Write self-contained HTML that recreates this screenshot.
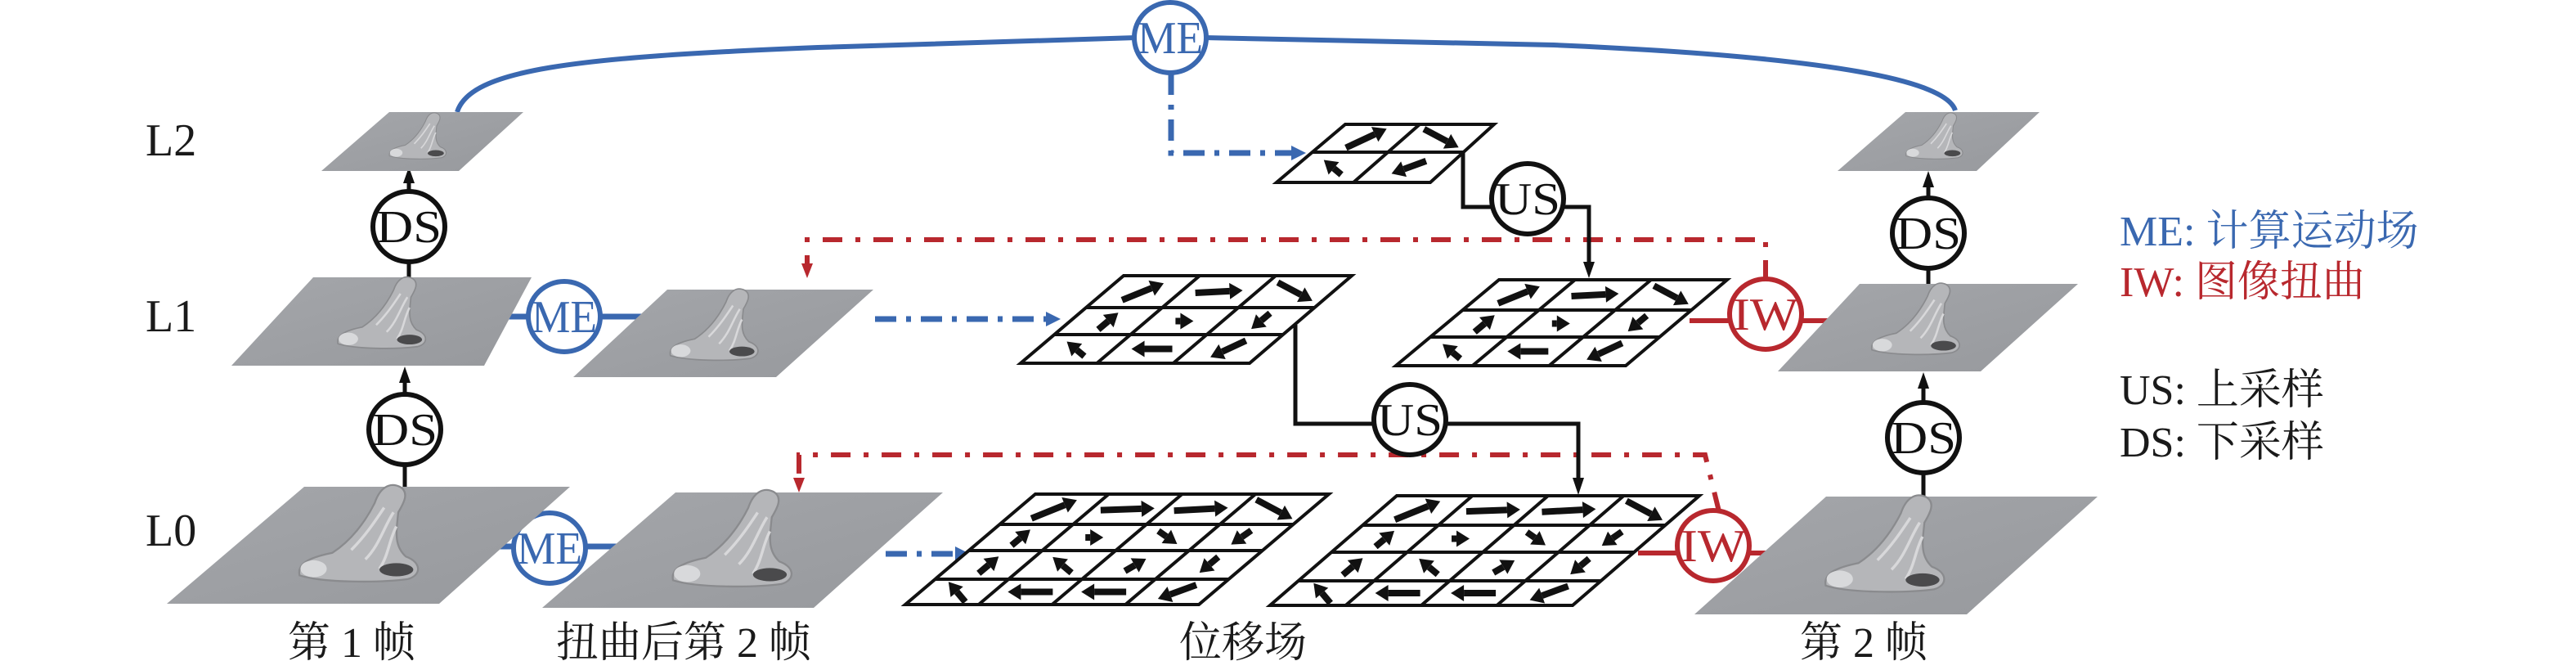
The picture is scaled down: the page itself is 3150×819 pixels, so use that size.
<!DOCTYPE html>
<html><head><meta charset="utf-8"><style>
html,body{margin:0;padding:0;background:#fff;width:3150px;height:819px;overflow:hidden}
svg{display:block}
.t{font-family:"Liberation Serif","Noto Serif CJK SC",serif}
</style></head><body>
<svg id="s" width="3150" height="819" viewBox="0 0 3150 819" xmlns="http://www.w3.org/2000/svg">
<defs>
<linearGradient id="gg" x1="0" y1="0" x2="1" y2="1">
<stop offset="0" stop-color="#a4a6aa"/><stop offset="1" stop-color="#97999d"/>
</linearGradient>
</defs>
<g id="lines" fill="none" stroke-linejoin="miter">
<path d="M559,137 C575,85 700,70 1000,58 L1390,46" stroke="#3a68b0" stroke-width="6"/>
<path d="M1472,46 L1900,55 C2250,70 2380,100 2391,135" stroke="#3a68b0" stroke-width="6"/>
<path d="M1432,90 L1432,187 L1580,187" stroke="#3a68b0" stroke-width="7" stroke-dasharray="26 12 6 12"/>
<polygon points="1597,187 1579,178 1579,196" fill="#3a68b0"/>
<line x1="575" y1="387" x2="790" y2="387" stroke="#3a68b0" stroke-width="7"/>
<line x1="610" y1="668" x2="770" y2="668" stroke="#3a68b0" stroke-width="7"/>
<line x1="1070" y1="390" x2="1280" y2="390" stroke="#3a68b0" stroke-width="7" stroke-dasharray="26 12 6 12"/>
<polygon points="1297,390 1279,381 1279,399" fill="#3a68b0"/>
<line x1="1083" y1="677" x2="1168" y2="677" stroke="#3a68b0" stroke-width="7" stroke-dasharray="26 12 6 12"/>
<polygon points="1186,677 1168,668 1168,686" fill="#3a68b0"/>
<path d="M2159,342 L2159,293 L987,293 L987,322" stroke="#b8282e" stroke-width="6" stroke-dasharray="24 16 6 16"/>
<polygon points="987,340 980,322 994,322" fill="#b8282e"/>
<path d="M2102,625 L2085,556 L977,556 L977,584" stroke="#b8282e" stroke-width="6" stroke-dasharray="24 16 6 16"/>
<polygon points="977,602 970,584 984,584" fill="#b8282e"/>
<line x1="2066" y1="392" x2="2250" y2="392" stroke="#b8282e" stroke-width="6"/>
<line x1="2003" y1="676" x2="2160" y2="676" stroke="#b8282e" stroke-width="6"/>
<path d="M1789,186 L1789,253 L1943,253 L1943,322" stroke="#111" stroke-width="5"/>
<polygon points="1943,340 1936,320 1950,320" fill="#111"/>
<path d="M1584,397 L1584,518 L1930,518 L1930,586" stroke="#111" stroke-width="5"/>
<polygon points="1930,605 1923,584 1937,584" fill="#111"/>
<line x1="500" y1="339" x2="500" y2="222" stroke="#111" stroke-width="5"/>
<polygon points="500,204 493,224 507,224" fill="#111"/>
<line x1="495" y1="595" x2="495" y2="466" stroke="#111" stroke-width="5"/>
<polygon points="495,448 488,468 502,468" fill="#111"/>
<line x1="2358" y1="347" x2="2358" y2="227" stroke="#111" stroke-width="5"/>
<polygon points="2358,209 2351,229 2365,229" fill="#111"/>
<line x1="2352" y1="607" x2="2352" y2="473" stroke="#111" stroke-width="5"/>
<polygon points="2352,455 2345,475 2359,475" fill="#111"/>
</g>
<g id="grids"></g>
<g id="circles"></g>
<g id="frames"></g>
<g class="t" fill="#1a1a1a" font-size="56">
<text x="178" y="190">L2</text>
<text x="178" y="405">L1</text>
<text x="178" y="667">L0</text>
</g>
<g class="t" font-size="52">
<text x="2592" y="300" fill="#3a68b0">ME: 计算运动场</text>
<text x="2592" y="362" fill="#b8282e">IW: 图像扭曲</text>
<text x="2592" y="494" fill="#1a1a1a">US: 上采样</text>
<text x="2592" y="558" fill="#1a1a1a">DS: 下采样</text>
</g>
<g class="t" font-size="52" fill="#1a1a1a" text-anchor="middle">
<text x="430" y="803">第 1 帧</text>
<text x="836" y="803">扭曲后第 2 帧</text>
<text x="1520" y="803">位移场</text>
<text x="2279" y="803">第 2 帧</text>
</g>
</svg>
<script>
var NS="http://www.w3.org/2000/svg";
function el(p,n,a,txt){var e=document.createElementNS(NS,n);for(var k in a)e.setAttribute(k,a[k]);if(txt)e.textContent=txt;p.appendChild(e);return e;}
var G=document.getElementById('grids'),C=document.getElementById('circles'),F=document.getElementById('frames');
function grid(ty,by,tl,tr,bl,br,rows,dirs,sc){
  var nr=rows.length-1,nc=dirs[0].length;
  function P(u,v){var xt=tl+(tr-tl)*u,xb=bl+(br-bl)*u;var y=rows[0]+(rows[nr]-rows[0])*v;return [xt+(xb-xt)*v,y];}
  function pt(u,i){var v=(rows[i]-rows[0])/(rows[nr]-rows[0]);var p=P(u,v);return [p[0],rows[i]];}
  el(G,'polygon',{points:[pt(0,0),pt(1,0),pt(1,nr),pt(0,nr)].map(function(p){return p.join(',')}).join(' '),fill:'#fff',stroke:'#111','stroke-width':4});
  for(var i=1;i<nr;i++){var a=pt(0,i),b=pt(1,i);el(G,'line',{x1:a[0],y1:a[1],x2:b[0],y2:b[1],stroke:'#111','stroke-width':4});}
  for(var j=1;j<nc;j++){var a=pt(j/nc,0),b=pt(j/nc,nr);el(G,'line',{x1:a[0],y1:a[1],x2:b[0],y2:b[1],stroke:'#111','stroke-width':4});}
  for(var r=0;r<nr;r++)for(var c=0;c<nc;c++){
    var d=dirs[r][c];var ang=d[0]*Math.PI/180,len=d[1]*sc;
    var vm=((rows[r]+rows[r+1])/2-rows[0])/(rows[nr]-rows[0]);var m=P((c+0.5)/nc,vm);
    var cx=m[0],cy=(rows[r]+rows[r+1])/2;
    var dx=Math.cos(ang),dy=Math.sin(ang);
    var x1=cx-dx*len/2,y1=cy-dy*len/2,x2=cx+dx*len/2,y2=cy+dy*len/2;
    var h=16*sc,w=10*sc;var bx=x2-dx*h,by2=y2-dy*h;
    el(G,'line',{x1:x1,y1:y1,x2:bx,y2:by2,stroke:'#111','stroke-width':8*sc});
    el(G,'polygon',{points:x2+','+y2+' '+(bx-dy*w)+','+(by2+dx*w)+' '+(bx+dy*w)+','+(by2-dx*w),fill:'#111'});
  }
}
var d4=[[[-22,60],[-2,66],[-3,66],[28,50]],[[-40,30],[0,22],[35,28],[145,30]],[[-40,32],[-140,30],[-30,30],[140,30]],[[-130,32],[180,55],[180,55],[160,50]]];
var d3=[[[-22,55],[-3,58],[28,48]],[[-40,32],[0,22],[140,30]],[[-140,28],[180,50],[155,48]]];
var d2=[[[-25,55],[28,48]],[[-140,28],[160,45]]];
grid(604,739,1266,1625,1107,1466,[604,641,673,708,739],d4,1);
grid(606,740,1708,2078,1553,1923,[606,642,675,710,740],d4,1);
grid(337,444,1374,1653,1248,1528,[337,376,409,444],d3,1);
grid(342,447,1833,2112,1707,1988,[342,379,412,447],d3,1);
grid(152,223,1645,1827,1561,1749,[152,186,223],d2,1);
function circ(x,y,txt,col){el(C,'ellipse',{cx:x,cy:y,rx:44,ry:43,fill:'#fff',stroke:col,'stroke-width':6});
  el(C,'text',{x:x,y:y+19,'text-anchor':'middle','font-size':56,fill:col,'class':'t',textLength:80,lengthAdjust:'spacingAndGlyphs'},txt);}
var B='#3a68b0',R='#b8282e',K='#111';
circ(1431,46,'ME',B);circ(500,277,'DS',K);circ(495,525,'DS',K);circ(690,387,'ME',B);circ(672,670,'ME',B);
circ(1868,243,'US',K);circ(1724,513,'US',K);circ(2159,384,'IW',R);circ(2095,667,'IW',R);circ(2358,285,'DS',K);circ(2352,535,'DS',K);
function frame(pts,s){
  el(F,'polygon',{points:pts.map(function(p){return p.join(',')}).join(' '),fill:'url(#gg)'});
  var cx=(pts[0][0]+pts[1][0]+pts[2][0]+pts[3][0])/4,cy=(pts[0][1]+pts[2][1])/2;
  var g=el(F,'g',{transform:'translate('+cx+','+cy+') scale('+s+')'});
  el(g,'path',{d:'M-75,32 C-78,18 -60,12 -40,8 C-20,-5 -5,-25 5,-45 C10,-60 20,-68 32,-62 C42,-56 36,-45 30,-35 C28,-15 25,0 38,12 C55,18 55,32 40,36 C10,40 -50,40 -75,32 Z',fill:'#b5b6b9',stroke:'#8a8b8e','stroke-width':2});
  el(g,'path',{d:'M-20,5 C-5,-10 5,-25 15,-40 M-5,15 C10,0 15,-20 25,-35 M10,25 C20,10 20,-5 28,-20',stroke:'#d8d8da','stroke-width':3,fill:'none'});
  el(g,'ellipse',{cx:28,cy:26,rx:18,ry:7,fill:'#4a4a4c'});
  el(g,'ellipse',{cx:-60,cy:25,rx:14,ry:9,fill:'#d8d9db'});
}
frame([[476,137],[640,137],[561,209],[393,209]],0.55);
frame([[383,339],[650,339],[592,447],[283,447]],0.85);
frame([[372,595],[697,595],[537,738],[204,738]],1.15);
frame([[816,354],[1068,354],[949,461],[701,461]],0.85);
frame([[826,602],[1153,602],[995,743],[663,743]],1.15);
frame([[2330,137],[2494,137],[2417,209],[2247,209]],0.55);
frame([[2274,347],[2541,347],[2422,454],[2174,454]],0.85);
frame([[2233,607],[2565,607],[2405,751],[2072,751]],1.15);
</script>
</body></html>
